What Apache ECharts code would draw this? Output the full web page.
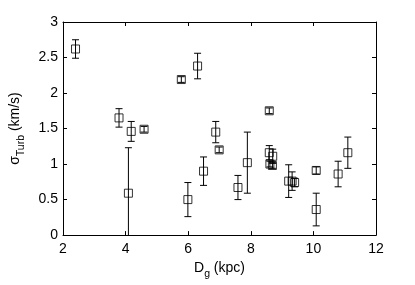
<!DOCTYPE html>
<html><head><meta charset="utf-8">
<script src="https://cdn.jsdelivr.net/npm/echarts@6/dist/echarts.min.js"></script>
<style>html,body{margin:0;padding:0;background:#fff}#c{width:415px;height:285px}</style>
</head><body><div id="c"></div>
<script>
var distance = [2.40, 3.79, 4.18, 4.59, 4.09, 5.99, 5.78, 6.30, 6.49, 6.88, 6.99, 7.59, 7.89, 8.59, 8.59, 8.70, 8.61, 8.69, 9.21, 9.32, 9.40, 10.09, 10.09, 10.79, 11.10];
var sigma    = [2.62, 1.65, 1.46, 1.49, 0.59, 0.50, 2.19, 2.38, 0.90, 1.45, 1.20, 0.67, 1.02, 1.75, 1.16, 1.11, 1.00, 0.98, 0.76, 0.76, 0.74, 0.91, 0.36, 0.86, 1.16];
var sigmaErr = [0.13, 0.13, 0.14, 0.04, 0.64, 0.24, 0.04, 0.18, 0.20, 0.15, 0.04, 0.17, 0.43, 0.04, 0.10, 0.10, 0.04, 0.04, 0.23, 0.13, 0.06, 0.05, 0.23, 0.18, 0.22];
var xTicks = [2, 4, 6, 8, 10, 12];
var yTicks = [0, 0.5, 1, 1.5, 2, 2.5, 3];

var pts = distance.map(function (d, i) { return [d, sigma[i]]; });
var errData = distance.map(function (d, i) { return [d, sigma[i] - sigmaErr[i], sigma[i] + sigmaErr[i]]; });

var FONT = 'Liberation Sans, Arial, sans-serif';
var chart = echarts.init(document.getElementById('c'), null, {renderer: 'canvas'});

function axisBase(show) {
  return {
    axisLine: {show: true, onZero: false, lineStyle: {color: '#000', width: 1}},
    axisTick: {show: true, inside: true, length: 4, lineStyle: {color: '#000'}},
    axisLabel: {show: show, color: '#000', fontFamily: FONT, fontSize: 14, margin: 7},
    splitLine: {show: false}
  };
}

var xb = axisBase(true), xt = axisBase(false), yl = axisBase(true), yr = axisBase(false);
yl.axisLabel.margin = 5;

var nameRich = {
  a: {fontFamily: FONT, fontSize: 14, color: '#000', lineHeight: 17, verticalAlign: 'top'},
  s: {fontFamily: FONT, fontSize: 10.5, color: '#000', lineHeight: 12, padding: [8, 0, 0, 0], verticalAlign: 'top'}
};

chart.setOption({
  animation: false,
  backgroundColor: '#fff',
  grid: {left: 58, right: 39, top: 22, bottom: 48, containLabel: false},
  xAxis: [
    Object.assign(xb, {type: 'value', position: 'bottom', min: 2, max: 12, interval: 2,
      name: '{a|D}{s|g}{a| (kpc)}', nameLocation: 'middle', nameGap: 25,
      nameTextStyle: {rich: nameRich}}),
    Object.assign(xt, {type: 'value', position: 'top', min: 2, max: 12, interval: 2})
  ],
  yAxis: [
    Object.assign(yl, {type: 'value', position: 'left', min: 0, max: 3, interval: 0.5,
      name: '{a|σ}{s|Turb}{a| (km/s)}', nameLocation: 'middle', nameGap: 38,
      nameTextStyle: {rich: nameRich}}),
    Object.assign(yr, {type: 'value', position: 'right', min: 0, max: 3, interval: 0.5})
  ],
  series: [
    {
      type: 'custom',
      xAxisIndex: 0, yAxisIndex: 0,
      data: errData,
      encode: {x: 0, y: [1, 2]},
      clip: true,
      renderItem: function (params, api) {
        var x = api.value(0);
        var lo = api.coord([x, api.value(1)]);
        var hi = api.coord([x, api.value(2)]);
        var hw = 3.5;
        var st = {stroke: '#000', lineWidth: 1, fill: null};
        return {
          type: 'group',
          children: [
            {type: 'line', shape: {x1: lo[0], y1: lo[1], x2: hi[0], y2: hi[1]}, style: st},
            {type: 'line', shape: {x1: lo[0] - hw, y1: lo[1], x2: lo[0] + hw, y2: lo[1]}, style: st},
            {type: 'line', shape: {x1: hi[0] - hw, y1: hi[1], x2: hi[0] + hw, y2: hi[1]}, style: st}
          ]
        };
      }
    },
    {
      type: 'scatter',
      xAxisIndex: 0, yAxisIndex: 0,
      data: pts,
      symbol: 'rect',
      symbolSize: 8,
      itemStyle: {color: 'rgba(0,0,0,0)', borderColor: '#000', borderWidth: 1}
    }
  ]
});
</script></body></html>
